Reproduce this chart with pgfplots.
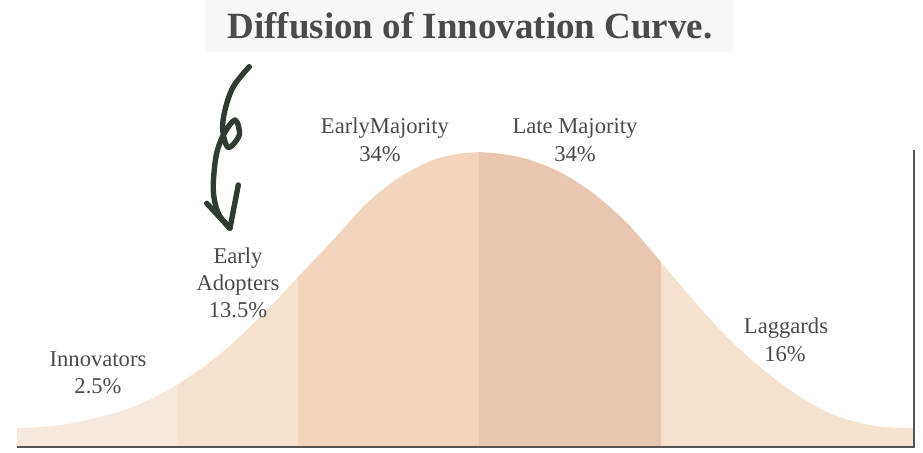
\documentclass[border=0pt]{standalone}
\usepackage{pgfplots}
\pgfplotsset{compat=1.18}
\usepackage{fontspec}
\setmainfont{Liberation Serif}
\definecolor{cInn}{HTML}{F6E8DC}
\definecolor{cEA}{HTML}{F5E2CE}
\definecolor{cEM}{HTML}{F3D5BD}
\definecolor{cLM}{HTML}{E9C6B0}
\definecolor{cLag}{HTML}{F5E2CE}
\definecolor{txt}{HTML}{4A4A4A}
\definecolor{axl}{HTML}{555555}
\definecolor{arrowc}{HTML}{2E3D30}
\definecolor{titlebg}{HTML}{F7F8FA}
\begin{document}
\begin{tikzpicture}
\begin{axis}[
  x=0.5pt, y=0.5pt,
  xmin=0, xmax=923, ymin=-6, ymax=446,
  axis lines=none, clip=false,
  ticks=none,
]
% bell curve regions (y = height above the baseline in px)
\addplot[draw=none, fill=cInn, smooth, tension=0.5] coordinates {
 (17,18) (40,19) (67,22) (100,29) (130,38) (155,49) (178,62)
} \closedcycle;
\addplot[draw=none, fill=cEA, smooth, tension=0.5] coordinates {
 (178,62) (205,80) (233,103) (267,136) (298,169)
} \closedcycle;
\addplot[draw=none, fill=cEM, smooth, tension=0.5] coordinates {
 (298,169) (333,206) (367,243) (400,269) (433,286) (458,292) (479,294)
} \closedcycle;
\addplot[draw=none, fill=cLM, smooth, tension=0.5] coordinates {
 (479,294) (502,292) (527,287) (560,274) (593,253) (627,223) (661,184)
} \closedcycle;
\addplot[draw=none, fill=cLag, smooth, tension=0.5] coordinates {
 (661,184) (693,146) (727,109) (760,79) (793,54) (827,34) (860,23) (885,19) (913,18)
} \closedcycle;
% axis lines
\draw[axl, line width=1pt] (axis cs:17,-1) -- (axis cs:914,-1) -- (axis cs:914,296);
% title
\fill[titlebg] (axis cs:205,394) rectangle (axis cs:733,446);
\node[anchor=base, text=txt, font=\fontsize{18.5}{20}\selectfont\bfseries] at (axis cs:470,408) {Diffusion of Innovation Curve.};
% arrow
\draw[arrowc, line width=2.7pt, line cap=round, line join=round] plot[smooth, tension=0.55] coordinates {
 (249.3,379.3) (233.3,359.3) (225,336) (222.7,316) (228.3,298.3) (239.3,311) (235,326) (223.3,311) (216,289.3) (213.3,256) (218.3,232.7) (230,217.7)
};
\draw[arrowc, line width=2.7pt, line cap=round, line join=round] (axis cs:206.7,242.7) -- (axis cs:230,217.7) -- (axis cs:238.3,261);
% labels
\tikzset{lab/.style={anchor=base, text=txt, font=\fontsize{11.3}{13.5}\selectfont, align=center}}
\node[lab] at (axis cs:385,313) {EarlyMajority};
\node[lab] at (axis cs:380,285) {34\%};
\node[lab] at (axis cs:575,313) {Late Majority};
\node[lab] at (axis cs:575,285) {34\%};
\node[lab] at (axis cs:238,183) {Early};
\node[lab] at (axis cs:238,156) {Adopters};
\node[lab] at (axis cs:238,129) {13.5\%};
\node[lab] at (axis cs:98,80) {Innovators};
\node[lab] at (axis cs:98,53) {2.5\%};
\node[lab] at (axis cs:786,113) {Laggards};
\node[lab] at (axis cs:785,85) {16\%};
\path (axis cs:0,-6) rectangle (axis cs:923,446);
\end{axis}
\end{tikzpicture}
\end{document}
